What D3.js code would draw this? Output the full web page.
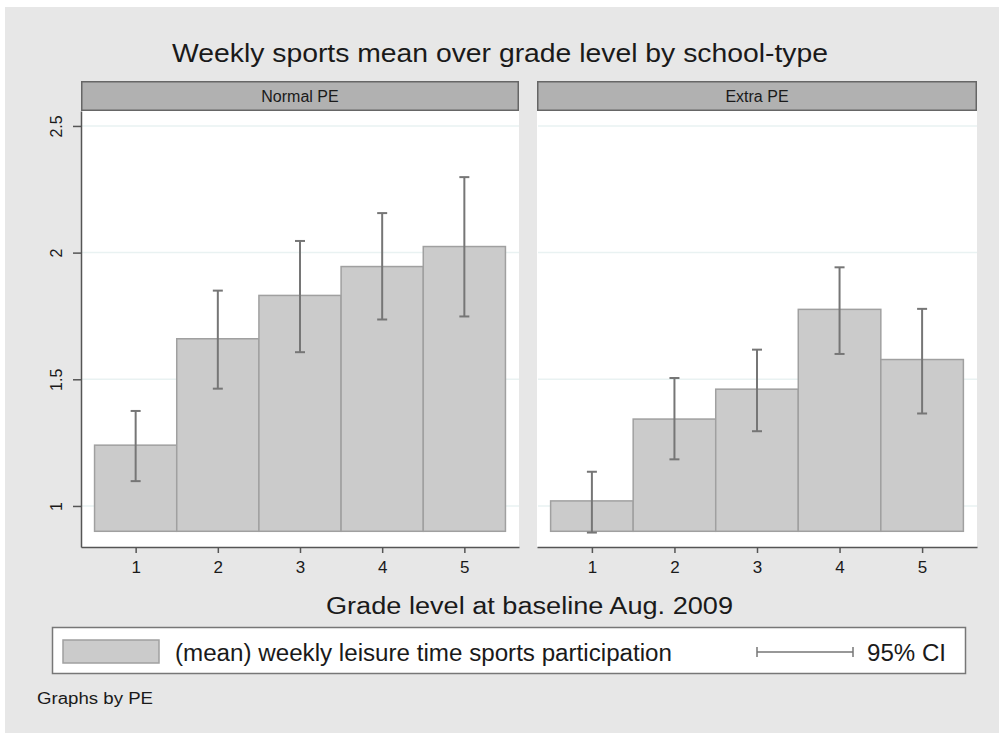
<!DOCTYPE html>
<html>
<head>
<meta charset="utf-8">
<script src="https://cdn.jsdelivr.net/npm/d3@7"></script>
<style>
  body { margin: 0; background: #fff; }
  svg text { font-family: "Liberation Sans", Arial, sans-serif; fill: #1a1a1a; }
</style>
</head>
<body>
<div class="chart"></div>
<script>
// data
const grades = [1, 2, 3, 4, 5];
const panels = ["Normal PE", "Extra PE"];
const normalMean = [1.240, 1.660, 1.831, 1.945, 2.024];
const normalLo = [1.098, 1.463, 1.607, 1.736, 1.748];
const normalHi = [1.375, 1.850, 2.046, 2.156, 2.298];
const extraMean = [1.020, 1.343, 1.461, 1.776, 1.578];
const extraLo = [0.895, 1.184, 1.295, 1.600, 1.365];
const extraHi = [1.135, 1.505, 1.617, 1.942, 1.778];
const yTicks = [1, 1.5, 2, 2.5];
const barBase = 0.9;

const width = 999;
const height = 733;

const svg = d3.select(".chart").append("svg")
  .attr("width", width)
  .attr("height", height);

// stata gray background
svg.append("rect")
  .attr("x", 5).attr("y", 7)
  .attr("width", width - 5).attr("height", height - 7)
  .attr("fill", "#e7e7e7");

// the original is a bit stretched sideways, so text widths are pinned
svg.append("text")
  .attr("x", 172).attr("y", 62)
  .attr("font-size", 26)
  .attr("textLength", 656)
  .attr("lengthAdjust", "spacingAndGlyphs")
  .text("Weekly sports mean over grade level by school-type");

const y = d3.scaleLinear().domain([0.838, 2.559]).range([547, 111]);

const panelData = [
  { name: panels[0], x0: 81, x1: 519, mean: normalMean, lo: normalLo, hi: normalHi },
  { name: panels[1], x0: 537, x1: 977, mean: extraMean, lo: extraLo, hi: extraHi },
];

panelData.forEach((p, i) => {
  const x = d3.scaleLinear().domain([0.335, 5.665]).range([p.x0, p.x1]);
  const g = svg.append("g");

  // plot region
  g.append("rect")
    .attr("x", p.x0).attr("y", 111)
    .attr("width", p.x1 - p.x0).attr("height", 547 - 111)
    .attr("fill", "#fff");

  // gridlines
  g.selectAll(".grid")
    .data(yTicks)
    .enter()
    .append("line")
    .attr("x1", p.x0 + 1).attr("x2", p.x1)
    .attr("y1", (d) => y(d)).attr("y2", (d) => y(d))
    .attr("stroke", "#e9f2f2")
    .attr("stroke-width", 1.5);

  // strip label
  g.append("rect")
    .attr("x", p.x0 + 0.75).attr("y", 81.75)
    .attr("width", p.x1 - p.x0 - 1.5).attr("height", 28.5)
    .attr("fill", "#b1b1b1")
    .attr("stroke", "#666")
    .attr("stroke-width", 1.5);
  g.append("text")
    .attr("x", (p.x0 + p.x1) / 2).attr("y", 102)
    .attr("text-anchor", "middle")
    .attr("font-size", 16)
    .text(p.name);

  // bars
  g.selectAll(".bar")
    .data(grades)
    .enter()
    .append("rect")
    .attr("x", (d) => x(d - 0.5))
    .attr("width", x(1.5) - x(0.5))
    .attr("y", (d, j) => y(p.mean[j]))
    .attr("height", (d, j) => y(barBase) - y(p.mean[j]))
    .attr("fill", "#cbcbcb")
    .attr("stroke", "#a0a0a0")
    .attr("stroke-width", 1.5);

  // 95% CI
  const ci = g.selectAll(".ci").data(grades).enter().append("g").attr("stroke", "#767676").attr("stroke-width", 2);
  ci.append("line")
    .attr("x1", (d) => x(d)).attr("x2", (d) => x(d))
    .attr("y1", (d, j) => y(p.lo[j])).attr("y2", (d, j) => y(p.hi[j]));
  ci.append("line")
    .attr("x1", (d) => x(d) - 5).attr("x2", (d) => x(d) + 5)
    .attr("y1", (d, j) => y(p.lo[j])).attr("y2", (d, j) => y(p.lo[j]));
  ci.append("line")
    .attr("x1", (d) => x(d) - 5).attr("x2", (d) => x(d) + 5)
    .attr("y1", (d, j) => y(p.hi[j])).attr("y2", (d, j) => y(p.hi[j]));

  // x axis
  const xAxis = d3.axisBottom(x).tickValues(grades).tickFormat(d3.format("d"))
    .tickSize(6).tickPadding(8).tickSizeOuter(0);
  const xa = g.append("g").attr("transform", "translate(0,547)").call(xAxis);
  xa.select(".domain").attr("stroke", "#555").attr("stroke-width", 1.5);
  xa.selectAll(".tick line").attr("stroke", "#555").attr("stroke-width", 1.5);
  xa.selectAll(".tick text").attr("font-size", 17).attr("fill", "#1a1a1a")
    .attr("font-family", "Liberation Sans, Arial, sans-serif");

  // y axis only on the first panel
  if (i === 0) {
    const yAxis = d3.axisLeft(y).tickValues(yTicks).tickSize(8).tickSizeOuter(0).tickFormat(d3.format("~g"));
    const ya = g.append("g").attr("transform", `translate(${p.x0},0)`).call(yAxis);
    ya.select(".domain").attr("stroke", "#555").attr("stroke-width", 1.5);
    ya.selectAll(".tick line").attr("stroke", "#555").attr("stroke-width", 1.5);
    ya.selectAll(".tick text")
      .attr("font-size", 16).attr("fill", "#1a1a1a")
      .attr("font-family", "Liberation Sans, Arial, sans-serif")
      .attr("text-anchor", "middle")
      .attr("x", null).attr("dy", null)
      .attr("transform", "translate(-19,0) rotate(-90)");
  }
});

svg.append("text")
  .attr("x", 326).attr("y", 614)
  .attr("font-size", 23)
  .attr("textLength", 407)
  .attr("lengthAdjust", "spacingAndGlyphs")
  .text("Grade level at baseline Aug. 2009");

// legend
const legend = svg.append("g");
legend.append("rect")
  .attr("x", 52.5).attr("y", 627.5)
  .attr("width", 913).attr("height", 46)
  .attr("fill", "#fff")
  .attr("stroke", "#777")
  .attr("stroke-width", 1.5);
legend.append("rect")
  .attr("x", 63).attr("y", 640)
  .attr("width", 96).attr("height", 23)
  .attr("fill", "#cbcbcb")
  .attr("stroke", "#a0a0a0")
  .attr("stroke-width", 1.5);
legend.append("text")
  .attr("x", 175).attr("y", 661)
  .attr("font-size", 23)
  .attr("textLength", 497)
  .attr("lengthAdjust", "spacingAndGlyphs")
  .text("(mean) weekly leisure time sports participation");
legend.append("line")
  .attr("x1", 757).attr("x2", 853).attr("y1", 652).attr("y2", 652)
  .attr("stroke", "#767676").attr("stroke-width", 1.5);
[757, 853].forEach((cx) => {
  legend.append("line")
    .attr("x1", cx).attr("x2", cx).attr("y1", 647).attr("y2", 657)
    .attr("stroke", "#767676").attr("stroke-width", 1.5);
});
legend.append("text")
  .attr("x", 867).attr("y", 661)
  .attr("font-size", 23)
  .attr("textLength", 79)
  .attr("lengthAdjust", "spacingAndGlyphs")
  .text("95% CI");

svg.append("text")
  .attr("x", 37).attr("y", 704)
  .attr("font-size", 16)
  .attr("textLength", 116)
  .attr("lengthAdjust", "spacingAndGlyphs")
  .text("Graphs by PE");
</script>
</body>
</html>
